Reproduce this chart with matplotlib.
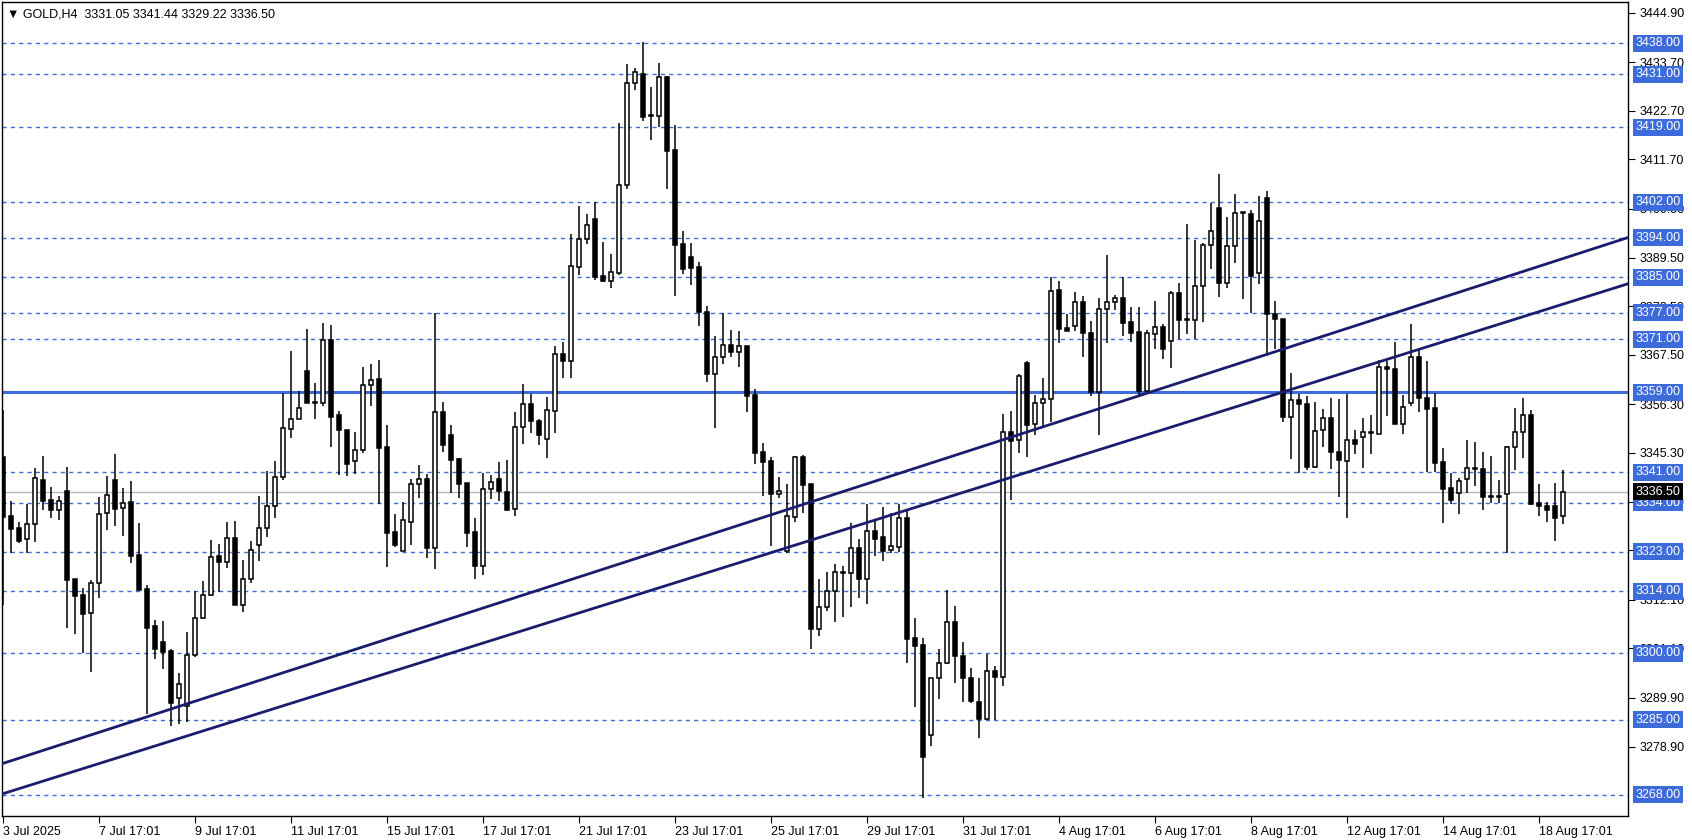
import matplotlib
matplotlib.use("Agg")
import matplotlib.pyplot as plt
import numpy as np
from matplotlib.transforms import blended_transform_factory

plt.rcParams['font.family'] = 'Liberation Sans'

# ---- data (H4 candles, GOLD) ----
opens = [3344.5,3331.0,3328.3,3325.8,3329.2,3339.2,3334.7,3332.3,3336.7,3316.7,
 3313.2,3309.0,3315.8,3331.8,3339.2,3332.8,3334.2,3322.2,3314.5,3306.2,
 3302.5,3300.5,3290.0,3288.0,3299.6,3307.9,3313.2,3322.0,3320.7,3326.0,
 3311.0,3316.9,3324.4,3328.3,3333.3,3339.9,3350.7,3352.9,3363.9,3356.5,
 3356.5,3370.8,3353.9,3350.5,3343.4,3345.9,3360.6,3362.1,3346.7,3327.4,
 3323.2,3329.8,3338.2,3339.4,3323.9,3354.5,3349.4,3343.9,3338.5,3327.4,
 3319.8,3337.1,3339.4,3336.5,3332.6,3351.1,3356.4,3352.6,3348.4,3354.9,
 3367.8,3366.2,3387.4,3393.6,3398.2,3385.3,3384.3,3386.1,3405.9,3428.9,
 3431.0,3421.5,3421.6,3430.3,3413.9,3392.6,3389.6,3387.3,3377.3,3363.1,
 3367.1,3369.7,3368.1,3369.5,3358.4,3345.5,3343.5,3336.0,3323.2,3330.9,
 3344.4,3338.3,3305.6,3310.4,3314.0,3318.2,3318.2,3323.7,3316.9,3327.6,
 3326.2,3323.3,3324.1,3330.5,3303.4,3301.9,3281.5,3294.3,3297.9,3307.0,
 3299.4,3294.3,3288.9,3285.1,3295.9,3294.6,3350.0,3348.2,3365.6,3351.8,
 3356.5,3357.4,3382.2,3373.5,3374.0,3379.5,3372.5,3359.2,3377.8,3379.4,
 3380.3,3375.0,3372.6,3359.4,3372.2,3373.7,3370.6,3381.4,3375.3,3375.3,
 3383.1,3392.4,3400.7,3383.7,3392.2,3399.5,3399.3,3385.9,3403.0,3376.8,
 3375.5,3353.4,3357.3,3356.4,3342.2,3350.4,3353.3,3345.5,3343.6,3348.2,
 3349.0,3349.8,3349.7,3364.7,3364.3,3351.9,3356.5,3366.9,3357.8,3355.4,
 3343.2,3337.3,3336.2,3339.4,3341.6,3341.6,3335.5,3335.4,3336.0,3346.6,
 3350.0,3354.0,3334.0,3333.3,3333.3,3331.05]
highs = [3355.0,3334.4,3329.8,3333.7,3341.8,3344.6,3337.7,3335.6,3342.2,3316.7,
 3314.7,3316.6,3335.4,3340.1,3345.1,3337.4,3339.0,3329.5,3315.4,3307.5,
 3307.3,3301.0,3295.5,3304.9,3314.2,3316.4,3325.6,3324.7,3329.7,3329.9,
 3321.1,3325.4,3335.6,3341.2,3343.5,3358.8,3368.4,3359.3,3373.3,3361.1,
 3374.6,3374.3,3354.8,3350.5,3350.0,3364.7,3365.4,3366.4,3351.6,3331.5,
 3334.3,3339.4,3342.6,3340.5,3376.9,3356.8,3351.6,3344.2,3338.5,3330.5,
 3340.7,3340.4,3343.3,3343.7,3354.5,3360.9,3358.6,3353.1,3358.0,3369.4,
 3370.5,3394.8,3401.2,3399.4,3402.0,3393.0,3390.3,3419.9,3433.3,3432.3,
 3438.2,3428.0,3433.5,3430.6,3419.5,3395.5,3392.7,3388.4,3378.6,3371.8,
 3376.9,3373.1,3372.9,3369.5,3359.7,3347.5,3344.3,3339.8,3338.3,3344.6,
 3344.8,3338.3,3316.8,3318.3,3320.2,3319.7,3329.4,3325.8,3333.7,3330.0,
 3333.1,3331.7,3333.7,3332.4,3307.9,3303.4,3294.5,3300.9,3314.3,3310.7,
 3302.5,3296.6,3294.3,3299.8,3297.1,3354.1,3354.8,3363.2,3366.2,3358.4,
 3362.2,3385.2,3384.2,3376.7,3381.6,3380.8,3375.1,3380.3,3390.1,3381.0,
 3385.0,3378.4,3378.4,3373.1,3379.7,3374.4,3382.0,3383.7,3397.1,3393.5,
 3392.7,3401.8,3408.4,3398.6,3403.9,3399.9,3400.3,3403.5,3404.5,3379.7,
 3375.5,3363.3,3358.6,3358.1,3356.8,3355.2,3357.8,3357.5,3358.7,3350.4,
 3353.2,3353.9,3366.3,3366.1,3370.5,3358.4,3374.5,3368.5,3366.1,3358.8,
 3346.4,3340.7,3339.6,3348.3,3347.7,3345.5,3344.7,3339.2,3346.9,3355.5,
 3357.8,3355.0,3338.4,3334.3,3338.6,3341.44]
lows = [3310.9,3322.6,3324.9,3322.7,3325.2,3332.4,3330.7,3330.1,3305.8,3304.4,
 3300.1,3295.8,3312.4,3327.9,3328.8,3326.5,3320.5,3314.3,3286.3,3298.8,
 3296.4,3283.5,3284.0,3284.5,3299.2,3307.7,3313.0,3313.9,3319.4,3310.9,
 3309.4,3315.8,3320.9,3326.4,3330.7,3339.3,3348.8,3352.9,3356.5,3353.1,
 3355.9,3346.7,3340.4,3340.1,3340.5,3345.2,3355.9,3333.8,3319.6,3324.1,
 3323.2,3324.4,3335.2,3321.5,3319.0,3345.6,3336.3,3335.2,3324.1,3316.7,
 3317.8,3335.0,3334.5,3332.2,3331.0,3347.3,3349.9,3347.1,3344.2,3349.9,
 3362.3,3362.3,3385.6,3392.6,3384.4,3383.9,3382.7,3385.6,3405.0,3427.4,
 3420.3,3416.0,3419.1,3405.1,3380.9,3385.7,3383.3,3374.1,3361.4,3350.9,
 3365.4,3366.9,3364.7,3354.6,3342.7,3335.6,3324.3,3335.2,3322.6,3329.8,
 3331.8,3301.0,3303.8,3309.6,3307.1,3308.1,3310.5,3312.4,3311.1,3321.9,
 3320.9,3322.6,3322.8,3297.9,3287.9,3267.2,3279.0,3289.6,3297.6,3293.2,
 3288.9,3288.8,3280.8,3284.8,3284.8,3292.6,3334.7,3345.4,3344.3,3349.4,
 3351.3,3352.4,3370.1,3372.8,3372.8,3367.1,3358.2,3349.4,3370.1,3377.7,
 3371.8,3370.3,3358.2,3358.8,3368.8,3366.6,3364.6,3371.1,3372.2,3371.1,
 3375.0,3387.0,3380.5,3382.7,3388.2,3380.1,3376.9,3383.5,3367.3,3368.8,
 3352.4,3343.9,3340.7,3341.4,3341.8,3346.7,3341.7,3335.4,3330.5,3345.1,
 3342.0,3345.1,3349.7,3353.7,3351.9,3349.5,3356.0,3354.6,3340.9,3341.1,
 3329.4,3333.7,3331.4,3336.2,3337.9,3332.4,3333.9,3333.9,3322.6,3341.5,
 3344.1,3333.5,3331.1,3329.8,3325.3,3329.22]
closes = [3330.9,3328.0,3325.5,3329.2,3339.6,3334.5,3332.3,3334.4,3316.6,3313.0,
 3308.9,3315.8,3331.6,3335.7,3332.7,3334.1,3322.1,3314.3,3305.8,3301.0,
 3300.4,3288.8,3293.0,3299.6,3307.9,3313.2,3321.7,3320.6,3326.0,3310.9,
 3316.9,3323.4,3328.3,3333.3,3339.9,3350.9,3352.9,3355.4,3356.5,3356.6,
 3370.8,3353.5,3350.4,3342.9,3345.9,3360.6,3361.8,3346.5,3327.3,3324.4,
 3330.1,3338.3,3339.4,3323.9,3354.5,3347.0,3343.7,3338.4,3327.3,3319.8,
 3337.1,3338.7,3336.6,3332.4,3351.1,3356.4,3352.6,3349.4,3355.0,3367.8,
 3366.0,3387.6,3393.7,3396.9,3385.2,3384.3,3386.2,3405.9,3428.9,3431.4,
 3421.4,3421.6,3430.3,3413.7,3392.4,3386.9,3387.2,3377.3,3363.1,3367.1,
 3369.7,3368.2,3369.4,3358.3,3345.4,3343.3,3336.0,3336.6,3331.1,3344.4,
 3338.1,3305.5,3310.4,3314.0,3318.3,3318.1,3323.7,3316.9,3327.6,3325.9,
 3323.2,3324.2,3330.5,3303.2,3301.7,3276.6,3294.3,3297.9,3307.0,3299.4,
 3294.3,3289.3,3285.1,3295.9,3294.6,3350.0,3347.9,3362.7,3351.6,3356.5,
 3357.4,3381.9,3373.4,3373.0,3379.4,3372.5,3359.1,3377.8,3379.4,3380.3,
 3374.8,3372.5,3359.4,3372.4,3373.7,3368.9,3381.4,3375.3,3375.4,3383.1,
 3392.4,3395.5,3383.7,3392.2,3399.5,3399.6,3385.4,3397.8,3376.8,3375.5,
 3353.5,3357.3,3356.3,3342.2,3350.2,3353.2,3345.6,3343.7,3348.2,3347.4,
 3350.1,3349.9,3364.7,3364.2,3351.9,3355.6,3366.9,3357.8,3355.3,3343.1,
 3337.2,3334.7,3339.0,3341.8,3341.7,3335.3,3335.4,3335.4,3346.6,3350.0,
 3354.0,3333.8,3333.2,3332.3,3330.5,3336.50]

date_labels = ["3 Jul 2025","7 Jul 17:01","9 Jul 17:01","11 Jul 17:01","15 Jul 17:01",
 "17 Jul 17:01","21 Jul 17:01","23 Jul 17:01","25 Jul 17:01","29 Jul 17:01",
 "31 Jul 17:01","4 Aug 17:01","6 Aug 17:01","8 Aug 17:01","12 Aug 17:01",
 "14 Aug 17:01","18 Aug 17:01"]
date_label_bars = [0,12,24,36,48,60,72,84,96,108,120,132,144,156,168,180,192]

price_ticks = [3444.90,3433.70,3422.70,3411.70,3400.50,3389.50,3378.50,3367.50,
 3356.30,3345.30,3334.30,3323.30,3312.10,3301.10,3289.90,3278.90]
dashed_levels = [3438,3431,3419,3402,3394,3385,3377,3371,3341,3334,3323,3314,3300,3285,3268]
solid_level = 3359
last_price = 3336.50
# trend lines: (bar index, price) anchor pairs
trend_upper = [(93.34,3329.77),(157.1,3367.1)]
trend_lower = [(93.34,3321.26),(157.1,3357.46)]

W, H = 1692, 840
fig = plt.figure(figsize=(W/100, H/100), dpi=100)
ax_left, ax_right, ax_top, ax_bot = 2, 1628, 2, 816
ax = fig.add_axes([ax_left/W, 1-ax_bot/H, (ax_right-ax_left)/W, (ax_bot-ax_top)/H])
ax.set_xlim(-0.16, 203.1)
ax.set_ylim(3263.2, 3447.3)

BLUE = '#3d6bd9'
for lv in dashed_levels:
    ax.axhline(lv, color=BLUE, lw=1.0, ls=(0,(3,3)), zorder=1)
ax.axhline(solid_level, color=BLUE, lw=2.2, zorder=1)
ax.axhline(last_price, color='#b8b8b8', lw=1.0, zorder=1)

x = np.arange(len(opens))
o = np.array(opens); c = np.array(closes); h = np.array(highs); l = np.array(lows)
ax.vlines(x, l, h, color='black', lw=1.1, zorder=3)
up = c >= o
bw = 0.55
bot = np.minimum(o, c); ht = np.maximum(np.abs(c-o), 0.25)
ax.bar(x[up], ht[up], bw, bottom=bot[up], facecolor='white', edgecolor='black', lw=1.1, zorder=4)
ax.bar(x[~up], ht[~up], bw, bottom=bot[~up], facecolor='black', edgecolor='black', lw=1.1, zorder=4)

for pts in (trend_upper, trend_lower):
    ax.axline(pts[0], pts[1], color='#1c1c6e', lw=2.0, zorder=5)

for s in ax.spines.values():
    s.set_linewidth(1.0)
ax.yaxis.tick_right()
ax.set_yticks(price_ticks)
ax.set_yticklabels([f"{p:.2f}" for p in price_ticks], fontsize=9)
ax.tick_params(axis='y', length=5, pad=3, direction='out')
ax.set_xticks(date_label_bars)
ax.set_xticklabels(date_labels, fontsize=9, ha='left')
ax.tick_params(axis='x', length=5, pad=2)

tr = blended_transform_factory(ax.transAxes, ax.transData)
for lv in dashed_levels + [solid_level]:
    ax.text(1.0045, lv, f"{lv:.2f}", transform=tr, fontsize=9, color='white',
            va='center', ha='left', zorder=10, clip_on=False,
            bbox=dict(boxstyle='square,pad=0.2', fc=BLUE, ec='none'))
ax.text(1.0045, last_price, f"{last_price:.2f}", transform=tr, fontsize=9, color='white',
        va='center', ha='left', zorder=11, clip_on=False,
        bbox=dict(boxstyle='square,pad=0.2', fc='black', ec='none'))

ax.text(0.003, 0.992, "\u25BC GOLD,H4  3331.05 3341.44 3329.22 3336.50", transform=ax.transAxes,
        fontsize=9, va='top', ha='left', zorder=12)

fig.savefig("out.png", dpi=100)
